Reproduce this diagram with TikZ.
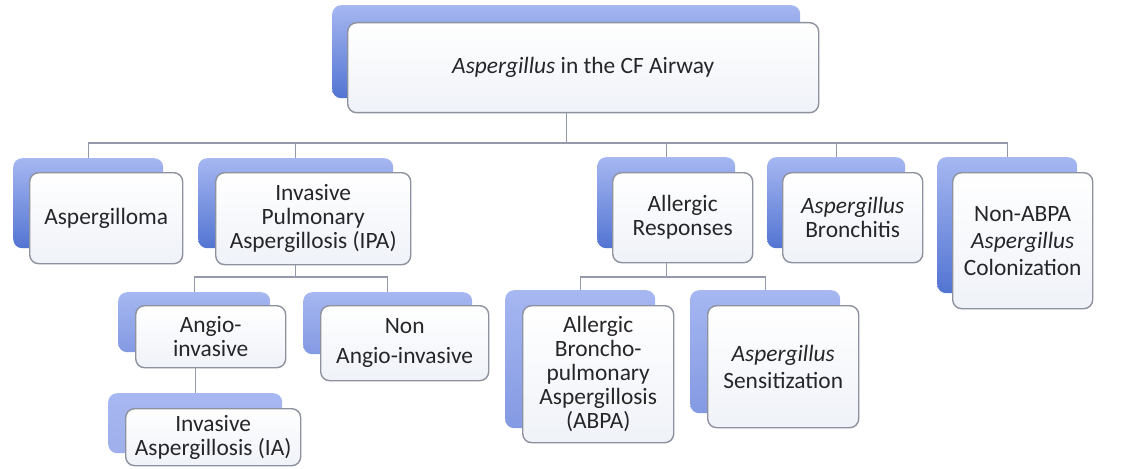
\documentclass[tikz,border=0pt]{standalone}
\usepackage{fontspec}
\setmainfont{Carlito}
\definecolor{linkgray}{HTML}{9399A8}
\definecolor{edgegray}{HTML}{8E919E}
\definecolor{inkgray}{HTML}{262629}
\definecolor{tabtop}{HTML}{A6B7F1}
\definecolor{tabdeep}{HTML}{5274D2}
\definecolor{tabmid}{HTML}{8399E2}
\definecolor{tabpale}{HTML}{9EAFEB}
\definecolor{cardbottom}{HTML}{EFF2F8}
\tikzset{
  tab/.style={draw=none, rounded corners=9pt, anchor=north west, inner sep=0pt,
    top color=tabtop, bottom color=tabdeep},
  tabsoft/.style={tab, bottom color=tabmid},
  tabpale/.style={tab, bottom color=tabpale},
  card/.style={draw=edgegray, line width=1.4pt, rounded corners=9pt, anchor=north west,
    inner sep=0pt, top color=white, bottom color=cardbottom, align=center, text=inkgray,
    font=\fontsize{23.4}{24}\selectfont},
  link/.style={draw=linkgray, line width=1.4pt},
}
\begin{document}
\begin{tikzpicture}[x=1pt, y=-1pt]
  \useasboundingbox (0,0) rectangle (1147,468);

  % root
  \node[tab, minimum width=468pt, minimum height=93pt] (rootb) at (332,5) {};
  \node[card, minimum width=471pt, minimum height=90pt] (root) at (347,22) {\textit{Aspergillus} in the CF Airway};

  % first level
  \node[tab, minimum width=150pt, minimum height=90pt] (aspb) at (13,158) {};
  \node[card, minimum width=153pt, minimum height=91pt] (asp) at (29,172) {Aspergilloma};

  \node[tab, minimum width=195pt, minimum height=90pt] (ipab) at (198,158) {};
  \node[card, minimum width=195pt, minimum height=92pt] (ipa) at (215,172) {Invasive\\Pulmonary\\Aspergillosis (IPA)};

  \node[tab, minimum width=138pt, minimum height=91pt] (allb) at (597,157) {};
  \node[card, minimum width=140pt, minimum height=90pt] (all) at (612,172) {Allergic\\Responses};

  \node[tab, minimum width=138pt, minimum height=91pt] (bronb) at (767,157) {};
  \node[card, minimum width=140pt, minimum height=90pt] (bron) at (782,172) {\textit{Aspergillus}\\Bronchitis};

  \node[tab, minimum width=140pt, minimum height=136pt] (colb) at (937,157) {};
  \node[card, minimum width=140pt, minimum height=136pt] (col) at (952,172) {Non-ABPA\\[3pt]\textit{Aspergillus}\\[3pt]Colonization};

  % second level
  \node[tabsoft, minimum width=152pt, minimum height=60pt] (angb) at (118,292) {};
  \node[card, minimum width=150pt, minimum height=62pt] (ang) at (135,305) {Angio-\\invasive};

  \node[tabsoft, minimum width=169pt, minimum height=62pt] (nonb) at (303,292) {};
  \node[card, minimum width=168pt, minimum height=75pt] (non) at (320,305) {Non\\[6pt]Angio-invasive};

  \node[tabsoft, minimum width=150pt, minimum height=138pt] (abpab) at (505,290) {};
  \node[card, minimum width=151pt, minimum height=137pt] (abpa) at (522,305) {Allergic\\Broncho-\\pulmonary\\Aspergillosis\\(ABPA)};

  \node[tabsoft, minimum width=150pt, minimum height=123pt] (senb) at (690,290) {};
  \node[card, minimum width=151pt, minimum height=122pt] (sen) at (707,305) {\textit{Aspergillus}\\[3pt]Sensitization};

  % third level
  \node[tabpale, minimum width=174pt, minimum height=60pt] (iab) at (108,393) {};
  \node[card, minimum width=175pt, minimum height=57pt] (ia) at (125,408) {Invasive\\Aspergillosis (IA)};

  % bus lines
  \coordinate (busA) at (0,143);
  \coordinate (busB) at (0,277);

  \foreach \kid in {aspb, ipab, allb, bronb, colb}
    \draw[link] (rootb.center |- root.south) -- (rootb.center |- busA) -| (\kid.north);

  \foreach \kid in {angb, nonb}
    \draw[link] (ipab.center |- ipa.south) -- (ipab.center |- busB) -| (\kid.north);

  \foreach \kid in {abpab, senb}
    \draw[link] (allb.center |- all.south) -- (allb.center |- busB) -| (\kid.north);

  \draw[link] (iab.north |- ang.south) -- (iab.north);
\end{tikzpicture}
\end{document}
